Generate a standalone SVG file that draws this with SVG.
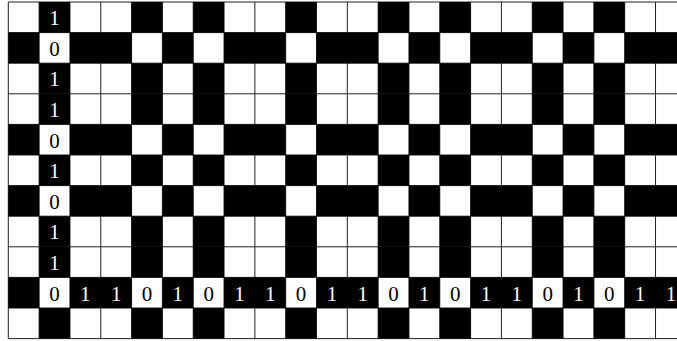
<svg xmlns="http://www.w3.org/2000/svg" xmlns:xlink="http://www.w3.org/1999/xlink" width="677" height="341" viewBox="0 0 677 341">
<style>
.grid line{stroke:#222;stroke-width:1}
.k{fill:#000}
text{font-family:"Liberation Serif","Times New Roman",serif;font-size:21px;text-anchor:middle}
.w{fill:#fff}
.b{fill:#000}
</style>
<defs>
<g id="rowA">
<rect class="k" x="39.12" y="2" width="30.82" height="30.6"/>
<rect class="k" x="131.58" y="2" width="30.82" height="30.6"/>
<rect class="k" x="193.22" y="2" width="30.82" height="30.6"/>
<rect class="k" x="285.68" y="2" width="30.82" height="30.6"/>
<rect class="k" x="378.14" y="2" width="30.82" height="30.6"/>
<rect class="k" x="439.78" y="2" width="30.82" height="30.6"/>
<rect class="k" x="532.24" y="2" width="30.82" height="30.6"/>
<rect class="k" x="593.88" y="2" width="30.82" height="30.6"/>
</g>
<g id="rowB">
<rect class="k" x="8.3" y="2" width="30.82" height="30.6"/>
<rect class="k" x="69.94" y="2" width="61.64" height="30.6"/>
<rect class="k" x="162.4" y="2" width="30.82" height="30.6"/>
<rect class="k" x="224.04" y="2" width="61.64" height="30.6"/>
<rect class="k" x="316.5" y="2" width="61.64" height="30.6"/>
<rect class="k" x="408.96" y="2" width="30.82" height="30.6"/>
<rect class="k" x="470.6" y="2" width="61.64" height="30.6"/>
<rect class="k" x="563.06" y="2" width="30.82" height="30.6"/>
<rect class="k" x="624.7" y="2" width="61.64" height="30.6"/>
</g>
</defs>
<rect x="0" y="0" width="677" height="341" fill="#fff"/>
<g class="grid">
<line x1="8.3" y1="2" x2="8.3" y2="338.6"/>
<line x1="39.12" y1="2" x2="39.12" y2="338.6"/>
<line x1="69.94" y1="2" x2="69.94" y2="338.6"/>
<line x1="100.76" y1="2" x2="100.76" y2="338.6"/>
<line x1="131.58" y1="2" x2="131.58" y2="338.6"/>
<line x1="162.4" y1="2" x2="162.4" y2="338.6"/>
<line x1="193.22" y1="2" x2="193.22" y2="338.6"/>
<line x1="224.04" y1="2" x2="224.04" y2="338.6"/>
<line x1="254.86" y1="2" x2="254.86" y2="338.6"/>
<line x1="285.68" y1="2" x2="285.68" y2="338.6"/>
<line x1="316.5" y1="2" x2="316.5" y2="338.6"/>
<line x1="347.32" y1="2" x2="347.32" y2="338.6"/>
<line x1="378.14" y1="2" x2="378.14" y2="338.6"/>
<line x1="408.96" y1="2" x2="408.96" y2="338.6"/>
<line x1="439.78" y1="2" x2="439.78" y2="338.6"/>
<line x1="470.6" y1="2" x2="470.6" y2="338.6"/>
<line x1="501.42" y1="2" x2="501.42" y2="338.6"/>
<line x1="532.24" y1="2" x2="532.24" y2="338.6"/>
<line x1="563.06" y1="2" x2="563.06" y2="338.6"/>
<line x1="593.88" y1="2" x2="593.88" y2="338.6"/>
<line x1="624.7" y1="2" x2="624.7" y2="338.6"/>
<line x1="655.52" y1="2" x2="655.52" y2="338.6"/>
<line x1="8.3" y1="2" x2="677" y2="2"/>
<line x1="8.3" y1="32.6" x2="677" y2="32.6"/>
<line x1="8.3" y1="63.2" x2="677" y2="63.2"/>
<line x1="8.3" y1="93.8" x2="677" y2="93.8"/>
<line x1="8.3" y1="124.4" x2="677" y2="124.4"/>
<line x1="8.3" y1="155" x2="677" y2="155"/>
<line x1="8.3" y1="185.6" x2="677" y2="185.6"/>
<line x1="8.3" y1="216.2" x2="677" y2="216.2"/>
<line x1="8.3" y1="246.8" x2="677" y2="246.8"/>
<line x1="8.3" y1="277.4" x2="677" y2="277.4"/>
<line x1="8.3" y1="308" x2="677" y2="308"/>
<line x1="8.3" y1="338.6" x2="677" y2="338.6"/>
</g>
<g id="cells">
<use xlink:href="#rowA" href="#rowA" y="0"/>
<use xlink:href="#rowB" href="#rowB" y="30.6"/>
<use xlink:href="#rowA" href="#rowA" y="61.2"/>
<use xlink:href="#rowA" href="#rowA" y="91.8"/>
<use xlink:href="#rowB" href="#rowB" y="122.4"/>
<use xlink:href="#rowA" href="#rowA" y="153"/>
<use xlink:href="#rowB" href="#rowB" y="183.6"/>
<use xlink:href="#rowA" href="#rowA" y="214.2"/>
<use xlink:href="#rowA" href="#rowA" y="244.8"/>
<use xlink:href="#rowB" href="#rowB" y="275.4"/>
<use xlink:href="#rowA" href="#rowA" y="306"/>
</g>
<g id="labels">
<text class="w" x="54.53" y="25.1">1</text>
<text class="b" x="54.53" y="55.7">0</text>
<text class="w" x="54.53" y="86.3">1</text>
<text class="w" x="54.53" y="116.9">1</text>
<text class="b" x="54.53" y="147.5">0</text>
<text class="w" x="54.53" y="178.1">1</text>
<text class="b" x="54.53" y="208.7">0</text>
<text class="w" x="54.53" y="239.3">1</text>
<text class="w" x="54.53" y="269.9">1</text>
<text class="b" x="54.53" y="300.5">0</text>
<text class="w" x="85.35" y="300.5">1</text>
<text class="w" x="116.17" y="300.5">1</text>
<text class="b" x="146.99" y="300.5">0</text>
<text class="w" x="177.81" y="300.5">1</text>
<text class="b" x="208.63" y="300.5">0</text>
<text class="w" x="239.45" y="300.5">1</text>
<text class="w" x="270.27" y="300.5">1</text>
<text class="b" x="301.09" y="300.5">0</text>
<text class="w" x="331.91" y="300.5">1</text>
<text class="w" x="362.73" y="300.5">1</text>
<text class="b" x="393.55" y="300.5">0</text>
<text class="w" x="424.37" y="300.5">1</text>
<text class="b" x="455.19" y="300.5">0</text>
<text class="w" x="486.01" y="300.5">1</text>
<text class="w" x="516.83" y="300.5">1</text>
<text class="b" x="547.65" y="300.5">0</text>
<text class="w" x="578.47" y="300.5">1</text>
<text class="b" x="609.29" y="300.5">0</text>
<text class="w" x="640.11" y="300.5">1</text>
<text class="w" x="670.93" y="300.5">1</text>
</g>
</svg>
